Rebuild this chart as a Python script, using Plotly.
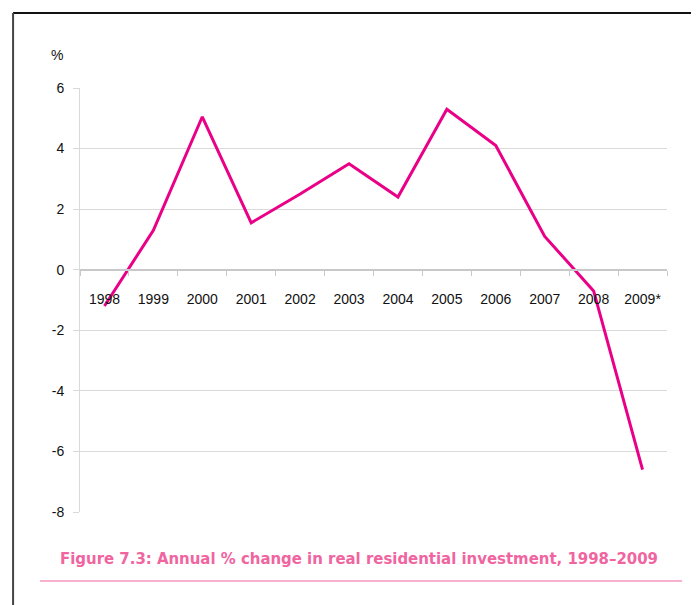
import plotly.graph_objects as go

years = ["1998", "1999", "2000", "2001", "2002", "2003", "2004", "2005", "2006", "2007", "2008", "2009*"]
change = [-1.2, 1.3, 5.05, 1.55, 2.5, 3.5, 2.4, 5.3, 4.1, 1.1, -0.7, -6.6]
y_ticks = [6, 4, 2, 0, -2, -4, -6, -8]
y_tick_text = ["6", "4", "2", "0", "-2", "-4", "-6", "-8"]

y_min, y_max = -8, 6
zero_pos = (0 - y_min) / (y_max - y_min)

fig = go.Figure()
fig.add_trace(go.Scatter(
    x=years, y=change, mode="lines",
    line=dict(color="#ea0087", width=3),
    hoverinfo="x+y", showlegend=False,
))

font = "Liberation Sans, Arial, sans-serif"
title_font = "DejaVu Sans Condensed, Liberation Sans Narrow, Roboto, sans-serif"
fig.update_layout(
    width=691, height=597,
    paper_bgcolor="white", plot_bgcolor="white",
    margin=dict(l=72, r=32, t=80, b=93),
    font=dict(family=font, size=14, color="#111111"),
    xaxis=dict(
        type="category", anchor="free", position=zero_pos,
        range=[-0.5, len(years) - 0.5],
        showline=True, linecolor="#c8c8c8", linewidth=2,
        ticks="outside", tickson="boundaries", ticklen=5, tickcolor="#c8c8c8",
        showgrid=False, zeroline=False,
        ticklabelstandoff=16,
        tickfont=dict(family=font, size=14, color="#111111"),
    ),
    yaxis=dict(
        range=[y_min, y_max], tickvals=y_ticks, ticktext=y_tick_text,
        showgrid=True, gridcolor="#d9d9d9", gridwidth=1,
        showline=True, linecolor="#d9d9d9", linewidth=1,
        zeroline=False, ticks="outside", ticklen=6, tickcolor="#d9d9d9",
        ticklabelstandoff=6,
        tickfont=dict(family=font, size=14, color="#111111"),
    ),
    annotations=[
        dict(text="%", xref="paper", yref="paper", x=-0.0256, y=1.078,
             xanchor="right", yanchor="middle", showarrow=False,
             font=dict(family=font, size=14, color="#111111")),
        dict(text="<b>Figure 7.3: Annual % change in real residential investment, 1998–2009</b>",
             xref="paper", yref="paper", x=0.988, y=-0.1085,
             xanchor="right", yanchor="middle", showarrow=False,
             font=dict(family=title_font, size=16.6, color="#f0649f")),
    ],
    shapes=[
        dict(type="line", xref="paper", yref="paper", x0=-0.114, x1=1.1, y0=1.177, y1=1.177,
             line=dict(color="#111111", width=2)),
        dict(type="line", xref="paper", yref="paper", x0=-0.114, x1=-0.114, y0=1.177, y1=-0.23,
             line=dict(color="#444444", width=2)),
        dict(type="line", xref="paper", yref="paper", x0=-0.068, x1=1.0256, y0=-0.1627, y1=-0.1627,
             line=dict(color="#f0649f", width=1)),
    ],
)

fig.write_html("out.html")
